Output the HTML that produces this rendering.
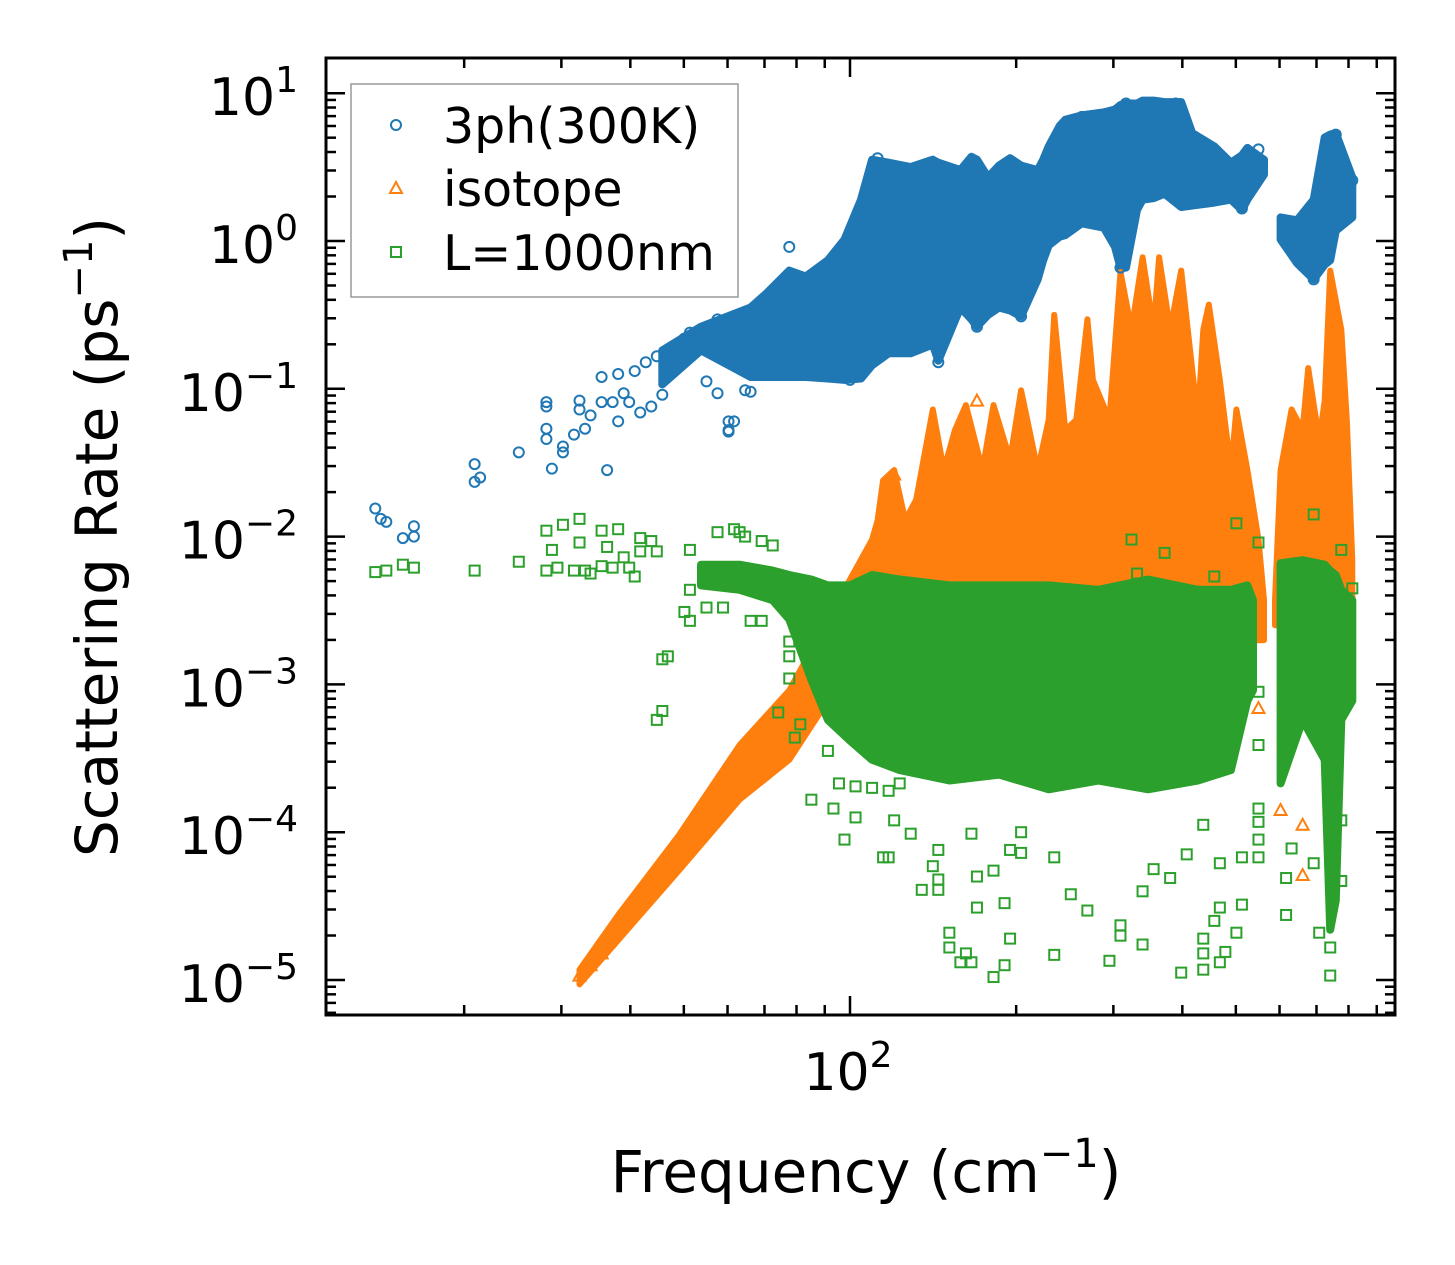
<!DOCTYPE html>
<html><head><meta charset="utf-8">
<style>
html,body{margin:0;padding:0;background:#fff;}
svg{display:block;}
text{font-family:"DejaVu Sans","Liberation Sans",sans-serif;fill:#000;}
</style></head>
<body>
<svg id="chart" width="1455" height="1265" viewBox="0 0 1455 1265" xmlns="http://www.w3.org/2000/svg">
<rect width="1455" height="1265" fill="#fff"/>
<g id="bands"></g>
<g id="marks"></g>
<g id="ticks"></g>
<rect x="326" y="58" width="1069" height="957" fill="none" stroke="#000" stroke-width="3"/>
<g id="ylabels" font-size="52" text-anchor="end"></g>
<text x="848" y="1090" font-size="52" text-anchor="middle">10<tspan font-size="36" dy="-23">2</tspan></text>
<text x="866" y="1192" font-size="58" text-anchor="middle">Frequency (cm<tspan font-size="40" dy="-25">−1</tspan><tspan dy="25">)</tspan></text>
<text transform="translate(117,537) rotate(-90)" font-size="58" text-anchor="middle">Scattering Rate (ps<tspan font-size="40" dy="-25">−1</tspan><tspan dy="25">)</tspan></text>
<g>
<rect x="351" y="84" width="387" height="213" fill="#fff" stroke="#999" stroke-width="1.5"/>
<circle cx="396" cy="125" r="5" fill="none" stroke="#1f77b4" stroke-width="2"/>
<text x="443" y="143" font-size="49">3ph(300K)</text>
<polygon points="396,182 402,193 390,193" fill="none" stroke="#ff7f0e" stroke-width="2"/>
<text x="443" y="206" font-size="49">isotope</text>
<rect x="391" y="247" width="10" height="10" fill="none" stroke="#2ca02c" stroke-width="2"/>
<text x="443" y="270" font-size="49">L=1000nm</text>
</g>
</svg>
<script>
// values stored as log10(frequency cm^-1) and log10(rate ps^-1)
const blueSparse = [[1.14,-1.81],[1.15,-1.88],[1.16,-1.90],[1.19,-2.01],[1.21,-1.93],[1.21,-2.00],[1.32,-1.51],[1.33,-1.60],[1.32,-1.63],[1.40,-1.43],[1.45,-1.12],[1.45,-1.09],[1.45,-1.27],[1.45,-1.34],[1.46,-1.54],[1.48,-1.39],[1.48,-1.43],[1.50,-1.31],[1.51,-1.08],[1.51,-1.14],[1.52,-1.27],[1.53,-1.18],[1.55,-0.92],[1.55,-1.09],[1.56,-1.55],[1.57,-1.09],[1.58,-0.90],[1.59,-1.03],[1.58,-1.22],[1.60,-1.09],[1.61,-0.88],[1.62,-1.16],[1.63,-0.82],[1.64,-1.12],[1.65,-0.78],[1.66,-1.04],[1.70,-0.66],[1.71,-0.62],[1.74,-0.95],[1.76,-1.03],[1.78,-1.29],[1.79,-1.22],[1.81,-1.01],[1.76,-0.53],[1.89,-0.04],[2.50,0.93],[2.59,0.93],[2.42,0.84],[2.05,0.56],[2.74,0.62],[2.88,0.72],[2.91,0.41],[2.31,-0.51],[2.23,-0.58],[2.00,-0.94],[2.16,-0.82],[1.82,-1.02],[1.78,-1.22],[1.78,-1.28],[2.84,-0.26],[2.49,-0.18],[2.71,0.22]];
const blueBand = [[1.66,-0.97,-0.74],[1.73,-0.74,-0.58],[1.82,-0.92,-0.45],[1.85,-0.92,-0.35],[1.89,-0.92,-0.20],[1.92,-0.92,-0.24],[1.96,-0.93,-0.13],[1.99,-0.94,0.01],[2.02,-0.93,0.28],[2.04,-0.84,0.55],[2.07,-0.76,0.53],[2.11,-0.76,0.50],[2.15,-0.70,0.55],[2.16,-0.81,0.53],[2.20,-0.45,0.48],[2.22,-0.53,0.57],[2.23,-0.58,0.55],[2.25,-0.50,0.43],[2.27,-0.45,0.51],[2.29,-0.47,0.56],[2.31,-0.51,0.51],[2.34,-0.26,0.48],[2.35,-0.13,0.55],[2.36,-0.03,0.64],[2.38,0.03,0.78],[2.39,0.04,0.82],[2.42,0.12,0.85],[2.46,0.09,0.87],[2.48,-0.04,0.89],[2.49,-0.18,0.92],[2.50,-0.18,0.93],[2.52,0.21,0.93],[2.53,0.28,0.95],[2.55,0.29,0.95],[2.57,0.32,0.94],[2.60,0.23,0.94],[2.62,0.24,0.73],[2.66,0.26,0.64],[2.69,0.28,0.53],[2.71,0.21,0.58],[2.72,0.28,0.63],[2.75,0.45,0.55]];
const blueBand2 = [[2.78,0.01,0.16],[2.81,-0.15,0.14],[2.84,-0.26,0.28],[2.86,-0.16,0.70],[2.87,-0.13,0.72],[2.88,0.07,0.73],[2.91,0.16,0.43]];
const isoUpper = [[1.51,-4.93],[1.58,-4.56],[1.69,-4.02],[1.80,-3.41],[1.89,-3.04],[1.96,-2.56],[2.04,-2.02],[2.05,-1.89],[2.06,-1.62],[2.08,-1.55],[2.10,-1.89],[2.12,-1.75],[2.15,-1.14],[2.17,-1.55],[2.19,-1.28],[2.21,-1.11],[2.24,-1.55],[2.26,-1.11],[2.29,-1.48],[2.31,-1.01],[2.34,-1.55],[2.36,-1.21],[2.37,-0.50],[2.39,-1.28],[2.41,-1.21],[2.43,-0.53],[2.44,-0.94],[2.47,-1.21],[2.49,-0.21],[2.51,-0.60],[2.53,-0.11],[2.55,-0.60],[2.56,-0.11],[2.58,-0.60],[2.60,-0.20],[2.63,-1.21],[2.64,-0.60],[2.65,-0.43],[2.67,-0.94],[2.69,-1.55],[2.70,-1.14],[2.72,-1.55],[2.74,-2.02],[2.75,-2.43]];
const isoLower = [[2.75,-2.70],[2.05,-2.77],[1.96,-3.11],[1.89,-3.51],[1.80,-3.78],[1.69,-4.26],[1.58,-4.73],[1.51,-5.03]];
const isoUpper2 = [[2.77,-2.43],[2.78,-1.55],[2.80,-1.14],[2.82,-1.28],[2.83,-0.86],[2.85,-1.35],[2.86,-1.08],[2.87,-0.20],[2.89,-0.60],[2.90,-1.21],[2.91,-2.16]];
const isoLower2 = [[2.91,-2.60],[2.77,-2.60]];
const isoSparse = [[2.74,-3.16],[2.78,-3.85],[2.82,-4.29],[2.82,-3.95],[2.23,-1.08],[2.08,-1.58],[1.51,-4.97],[1.53,-4.90],[1.55,-4.82],[1.57,-4.70],[1.60,-4.55]];
const bdryBand = [[1.73,-2.33,-2.19],[1.80,-2.36,-2.19],[1.86,-2.43,-2.23],[1.89,-2.56,-2.26],[1.93,-2.97,-2.29],[1.96,-3.24,-2.33],[2.00,-3.38,-2.33],[2.04,-3.51,-2.26],[2.09,-3.58,-2.29],[2.18,-3.65,-2.33],[2.27,-3.61,-2.33],[2.36,-3.71,-2.33],[2.45,-3.65,-2.36],[2.54,-3.71,-2.29],[2.63,-3.65,-2.36],[2.69,-3.58,-2.36],[2.72,-3.11,-2.33],[2.73,-3.04,-2.43]];
const bdryBand2 = [[2.78,-3.67,-2.18],[2.82,-3.24,-2.16],[2.86,-3.51,-2.19],[2.87,-4.66,-2.23],[2.88,-4.46,-2.26],[2.89,-3.24,-2.36],[2.91,-3.11,-2.43]];
const bdrySparse = [[1.14,-2.24],[1.16,-2.23],[1.19,-2.19],[1.21,-2.21],[1.32,-2.23],[1.40,-2.17],[1.45,-1.96],[1.46,-2.09],[1.45,-2.23],[1.48,-1.92],[1.51,-1.88],[1.51,-2.04],[1.47,-2.21],[1.50,-2.23],[1.52,-2.23],[1.53,-2.25],[1.55,-1.96],[1.56,-2.07],[1.55,-2.20],[1.58,-1.95],[1.59,-2.14],[1.57,-2.21],[1.62,-2.01],[1.62,-2.10],[1.64,-2.03],[1.65,-2.10],[1.60,-2.21],[1.61,-2.27],[1.66,-2.83],[1.67,-2.81],[1.66,-3.18],[1.65,-3.24],[1.71,-2.09],[1.71,-2.36],[1.70,-2.51],[1.71,-2.57],[1.74,-2.48],[1.77,-2.48],[1.76,-1.97],[1.79,-1.95],[1.80,-1.97],[1.81,-2.00],[1.84,-2.03],[1.86,-2.06],[1.82,-2.57],[1.84,-2.57],[1.89,-2.71],[1.89,-2.81],[1.89,-2.96],[1.93,-3.78],[1.97,-3.84],[2.01,-3.90],[1.99,-4.05],[2.06,-4.17],[1.98,-3.67],[2.01,-3.69],[2.04,-3.70],[1.96,-3.45],[1.87,-3.19],[1.91,-3.27],[1.90,-3.36],[2.07,-3.72],[2.09,-3.67],[2.11,-4.01],[2.07,-4.17],[2.08,-3.92],[2.13,-4.39],[2.16,-4.39],[2.16,-4.32],[2.15,-4.23],[2.16,-4.12],[2.18,-4.68],[2.18,-4.78],[2.21,-4.82],[2.20,-4.88],[2.22,-4.88],[2.23,-4.51],[2.23,-4.30],[2.22,-4.01],[2.26,-4.98],[2.28,-4.90],[2.28,-4.48],[2.29,-4.72],[2.26,-4.26],[2.31,-4.14],[2.29,-4.12],[2.31,-4.00],[2.37,-4.83],[2.37,-4.17],[2.40,-4.42],[2.43,-4.53],[2.47,-4.87],[2.49,-4.70],[2.49,-4.63],[2.53,-4.76],[2.53,-4.40],[2.55,-4.25],[2.58,-4.31],[2.60,-4.95],[2.64,-4.82],[2.64,-4.93],[2.67,-4.88],[2.68,-4.81],[2.64,-4.72],[2.66,-4.60],[2.70,-4.68],[2.71,-4.49],[2.67,-4.51],[2.67,-4.21],[2.71,-4.17],[2.74,-4.17],[2.74,-4.05],[2.74,-3.93],[2.74,-3.84],[2.74,-3.41],[2.74,-3.05],[2.61,-4.15],[2.64,-3.95],[2.79,-4.31],[2.79,-4.56],[2.84,-4.21],[2.85,-4.68],[2.87,-4.78],[2.87,-4.97],[2.89,-4.33],[2.80,-4.11],[2.89,-3.92],[2.70,-1.91],[2.74,-2.04],[2.51,-2.02],[2.84,-1.85],[2.89,-2.09],[2.91,-2.35],[2.66,-2.27],[2.57,-2.11],[2.52,-2.25]];
const yTickExps = [1,0,-1,-2,-3,-4,-5];
const xMajorExps = [2];

const NS = 'http://www.w3.org/2000/svg';
const X0 = 850, XD = 552, Y0 = 241, YD = 147.8;
function sx(lf){ return X0 + (lf - 2) * XD; }
function sy(lr){ return Y0 - lr * YD; }
function mk(tag, attrs, parent){ const e = document.createElementNS(NS, tag); for (const k in attrs) e.setAttribute(k, attrs[k]); parent.appendChild(e); return e; }
const bands = document.getElementById('bands'), marks = document.getElementById('marks'), ticks = document.getElementById('ticks');

function bandPoly(arr, color, name, parent){
  const up = arr.map(d => sx(d[0]).toFixed(1)+','+sy(d[2]).toFixed(1));
  const lo = arr.slice().reverse().map(d => sx(d[0]).toFixed(1)+','+sy(d[1]).toFixed(1));
  const p = mk('polygon', {points: up.concat(lo).join(' '), fill: color, stroke: color, 'stroke-width': 8, 'stroke-linejoin': 'round'}, parent);
  
  
}
function outlinePoly(upper, lower, color, name){
  const pts = upper.concat(lower).map(d => sx(d[0]).toFixed(1)+','+sy(d[1]).toFixed(1));
  const p = mk('polygon', {points: pts.join(' '), fill: color, stroke: color, 'stroke-width': 6, 'stroke-linejoin': 'round'}, bands);
  
  
}
bandPoly(blueBand, '#1f77b4', 'band-3ph-main', bands);
bandPoly(blueBand2, '#1f77b4', 'band-3ph-high', bands);
blueSparse.forEach(d => {
  const c = mk('circle', {cx: sx(d[0]), cy: sy(d[1]), r: 5, fill: 'none', stroke: '#1f77b4', 'stroke-width': 2}, marks);
  
  
});
const gO = mk('g', {}, marks);
outlinePoly(isoUpper, isoLower, '#ff7f0e', 'band-isotope-main');
outlinePoly(isoUpper2, isoLower2, '#ff7f0e', 'band-isotope-high');
isoSparse.forEach(d => {
  const x = sx(d[0]), y = sy(d[1]);
  const t = mk('polygon', {points: `${x},${y-6} ${x+6},${y+5} ${x-6},${y+5}`, fill: 'none', stroke: '#ff7f0e', 'stroke-width': 2}, gO);
  
  
});
const gG = mk('g', {}, marks);
bandPoly(bdryBand, '#2ca02c', 'band-boundary-main', gG);
bandPoly(bdryBand2, '#2ca02c', 'band-boundary-high', gG);
bdrySparse.forEach(d => {
  const r = mk('rect', {x: sx(d[0])-5, y: sy(d[1])-5, width: 10, height: 10, fill: 'none', stroke: '#2ca02c', 'stroke-width': 2}, gG);
  
  
});
const L = 326, R = 1395, T = 58, B = 1015;
function tick(x1,y1,x2,y2){ const l = mk('line', {x1, y1, x2, y2, stroke: '#000', 'stroke-width': 2.5}, ticks);   }
for (let e = -6; e <= 1; e++) {
  for (let m = 1; m <= 9; m++) {
    const y = sy(e + Math.log10(m));
    if (y < T || y > B) continue;
    const len = m === 1 ? 19 : 10;
    tick(L, y, L+len, y); tick(R, y, R-len, y);
  }
}
for (let e = 1; e <= 2; e++) {
  for (let m = 1; m <= 9; m++) {
    const x = sx(e + Math.log10(m));
    if (x < L || x > R) continue;
    const len = (xMajorExps.includes(e) && m === 1) ? 19 : 10;
    tick(x, B, x, B-len); tick(x, T, x, T+len);
  }
}
const yl = document.getElementById('ylabels');
yTickExps.forEach(e => {
  const t = mk('text', {x: 298, y: sy(e) + 22}, yl);
  
  
  t.appendChild(document.createTextNode('10'));
  const s = document.createElementNS(NS, 'tspan');
  s.setAttribute('font-size', '36'); s.setAttribute('dy', '-23');
  s.textContent = e < 0 ? '−' + (-e) : String(e);
  t.appendChild(s);
});
</script>
</body></html>
